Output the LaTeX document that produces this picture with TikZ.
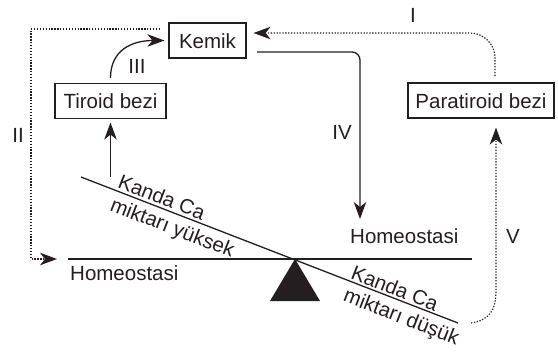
\documentclass[tikz,border=0pt]{standalone}
\usepackage{fontspec}
\setmainfont{Liberation Sans}
\usetikzlibrary{arrows.meta,calc}
\definecolor{ink}{HTML}{231F20}
\begin{document}
\begin{tikzpicture}[x=1pt,y=-1pt,
  box/.style={draw=ink,line width=1.1pt,inner xsep=7.5pt,inner ysep=0pt,minimum height=35pt,text height=15pt,text depth=0pt,font=\fontsize{20.5}{24}\selectfont,text=ink},
  lbl/.style={font=\fontsize{20.5}{24}\selectfont,text=ink,inner sep=0pt},
  arr/.style={-{Stealth[length=17pt,width=12.5pt,inset=5pt]}},
  solidln/.style={draw=ink,line width=1.3pt},
  dotln/.style={draw=ink,line width=1.2pt,dash pattern=on 1.3pt off 1.6pt},
]
\useasboundingbox (0,0) rectangle (558,354);

% boxes
\node[box,minimum width=77pt] (kemik) at (207.5,40.5) {Kemik};
\node[box,minimum width=111pt] (tiroid) at (110.5,101) {Tiroid bezi};
\node[box,minimum width=146pt] (para) at (481,100.5) {Paratiroid bezi};

% balance
\coordinate (L1) at (81,177);
\coordinate (L2) at (458,323);
\coordinate (H1) at (68,259);
\coordinate (H2) at (472,259);
\coordinate (apex) at (295,259);
\coordinate (bl) at (270,301);
\coordinate (br) at (320,301);
\fill[ink] (apex) -- (bl) -- (br) -- cycle;
\draw[solidln] (H1) -- (H2);
\draw[solidln] (L1) -- (L2);

% texts
\node[lbl,anchor=base west] (homeU) at (350,243) {Homeostasi};
\node[lbl,anchor=base west] (homeL) at (70,280) {Homeostasi};
\node[lbl,rotate=-21.2] (kandaU) at (162,197) {Kanda Ca};
\node[lbl,rotate=-21.2] (miktarU) at (172,229) {miktarı yüksek};
\node[lbl,rotate=-21.2] (kandaL) at (395,288) {Kanda Ca};
\node[lbl,rotate=-21.2] (miktarL) at (401,318) {miktarı düşük};

% roman labels
\node[lbl] (lI) at (413,15) {I};
\node[lbl] (lII) at (18,135) {II};
\node[lbl] (lIII) at (137,66) {III};
\node[lbl] (lIV) at (342,132) {IV};
\node[lbl] (lV) at (513,236) {V};

% I : paratiroid -> kemik (dotted)
\coordinate (iS) at (495,76);
\coordinate (iC) at (495,33);
\draw[dotln,rounded corners=25pt,shorten >=7pt,arr] (iS) -- (iC) -- ($(kemik.east)+(0,-7.5)$);

% II : kemik -> homeostasi (dotted)
\coordinate (iiS) at (160,29);
\coordinate (iiC1) at (31,29);
\coordinate (iiC2) at (31,259);
\coordinate (iiE) at (57,259);
\draw[dotln,arr] (iiS) -- (iiC1) -- (iiC2) -- (iiE);

% III : tiroid -> kemik (curved)
\coordinate (iiiS) at ($(tiroid.north)+(0,-5)$);
\draw[solidln,arr,shorten >=4pt] (iiiS) .. controls (110.5,50) and (132,40.5) .. (kemik.west);

% IV : kemik -> homeostasi
\coordinate (ivS) at (257,52);
\coordinate (ivC) at (360,52);
\coordinate (ivE) at (360,219);
\draw[solidln,arr,rounded corners=8pt] (ivS) -- (ivC) -- (ivE);

% lever -> tiroid
\coordinate (tS) at (110.5,177);
\draw[solidln,arr,shorten >=3.5pt] (tS) -- (tiroid.south);

% V : lever -> paratiroid (dotted)
\coordinate (vS) at (471,323);
\coordinate (vC) at (496,290);
\draw[dotln,arr,shorten >=9pt] (vS) .. controls (490,320) and (496,310) .. (vC) -- (vC |- para.south);
\end{tikzpicture}
\end{document}
